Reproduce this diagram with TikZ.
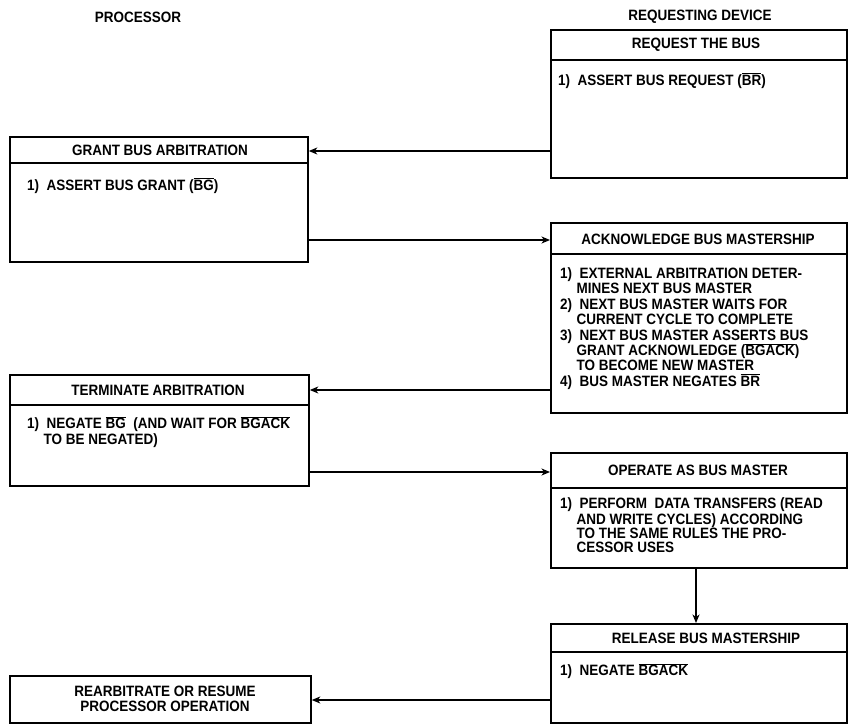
\documentclass[tikz,border=0pt]{standalone}
\usepackage{fontspec}
\setmainfont{Liberation Sans}[FakeStretch=0.9]
\usetikzlibrary{arrows.meta}
\newcommand{\ob}[1]{\smash{$\overline{\mbox{#1}}$}}
\newcommand{\fs}{\fontsize{15}{15}\selectfont\bfseries}
\begin{document}
\begin{tikzpicture}[x=1pt,y=-1pt,
  box/.style={draw, line width=1.8pt, anchor=north west, inner sep=0pt},
  divider/.style={line width=1.6pt},
  hdr/.style={font=\fs, anchor=center, inner sep=0pt},
  body/.style={font=\fs, align=left, anchor=north west, inner sep=0pt},
  ttl/.style={font=\fs, anchor=center, inner sep=0pt},
  arr/.style={line width=1.2pt, -{Stealth[length=8.5pt,width=7pt,inset=2.5pt]}}]
\useasboundingbox (0,0) rectangle (849,726);

% titles
\node[ttl] (tproc) at (138,17) {PROCESSOR};
\node[ttl] (treq) at (700,17) {REQUESTING DEVICE};

% request the bus
\node[box, minimum width=296pt, minimum height=148pt] (rq) at (550,29) {};
\coordinate (rqd) at (550,60);
\draw[divider] (rq.west |- rqd) -- (rq.east |- rqd);
\node[hdr] (rqh) at (696,45) {REQUEST THE BUS};
\node[body] (rqb) at (558,74) {\strut 1)\ \ ASSERT BUS REQUEST (\ob{BR})};

% grant bus arbitration
\node[box, minimum width=298pt, minimum height=125pt] (gr) at (9,136) {};
\coordinate (grd) at (9,163);
\draw[divider] (gr.west |- grd) -- (gr.east |- grd);
\node[hdr] (grh) at (160,150) {GRANT BUS ARBITRATION};
\node[body] (grb) at (27,179) {\strut 1)\ \ ASSERT BUS GRANT (\ob{BG})};

% acknowledge bus mastership
\node[box, minimum width=296pt, minimum height=190pt] (ack) at (550,222) {};
\coordinate (ackd) at (550,254);
\draw[divider] (ack.west |- ackd) -- (ack.east |- ackd);
\node[hdr] (ackh) at (698,239) {ACKNOWLEDGE BUS MASTERSHIP};
\node[body, font=\fontsize{15}{15.4}\selectfont\bfseries] (ackb) at (560,267.5) {\strut 1)\ \ EXTERNAL ARBITRATION DETER-\\
\hspace*{1.1em}MINES NEXT BUS MASTER\\
2)\ \ NEXT BUS MASTER WAITS FOR\\
\hspace*{1.1em}CURRENT CYCLE TO COMPLETE\\
3)\ \ NEXT BUS MASTER ASSERTS BUS\\
\hspace*{1.1em}GRANT ACKNOWLEDGE (\ob{BGACK})\\
\hspace*{1.1em}TO BECOME NEW MASTER\\
4)\ \ BUS MASTER NEGATES \ob{BR}};

% terminate arbitration
\node[box, minimum width=299pt, minimum height=111pt] (term) at (9,374) {};
\coordinate (termd) at (9,405);
\draw[divider] (term.west |- termd) -- (term.east |- termd);
\node[hdr] (termh) at (158,390) {TERMINATE ARBITRATION};
\node[body] (termb) at (27,417.5) {\strut 1)\ \ NEGATE \ob{BG}\ \ (AND WAIT FOR \ob{BGACK}\\
\hspace*{1.1em}TO BE NEGATED)};

% operate as bus master
\node[box, minimum width=296pt, minimum height=115pt] (op) at (550,452) {};
\coordinate (opd) at (550,488);
\draw[divider] (op.west |- opd) -- (op.east |- opd);
\node[hdr] (oph) at (698,470) {OPERATE AS BUS MASTER};
\node[body, font=\fontsize{15}{14.2}\selectfont\bfseries] (opb) at (560,497) {\strut 1)\ \ PERFORM\ \ DATA TRANSFERS (READ\\
\hspace*{1.1em}AND WRITE CYCLES) ACCORDING\\
\hspace*{1.1em}TO THE SAME RULES THE PRO-\\
\hspace*{1.1em}CESSOR USES};

% release bus mastership
\node[box, minimum width=296pt, minimum height=99pt] (rel) at (550,623) {};
\coordinate (reld) at (550,652);
\draw[divider] (rel.west |- reld) -- (rel.east |- reld);
\node[hdr] (relh) at (706,638) {RELEASE BUS MASTERSHIP};
\node[body] (relb) at (560,664.5) {\strut 1)\ \ NEGATE \ob{BGACK}};

% rearbitrate
\node[box, minimum width=301pt, minimum height=47pt] (rea) at (9,675) {};
\node[hdr, align=center] (reat) at (165,698.5) {REARBITRATE OR RESUME\\PROCESSOR OPERATION};

% connectors
\coordinate (a1) at (0,151);
\coordinate (a2) at (0,240);
\coordinate (a3) at (0,390);
\coordinate (a4) at (0,472);
\coordinate (a5) at (696,0);
\coordinate (a6) at (0,700);
\draw[arr] (rq.west |- a1) -- (gr.east |- a1);
\draw[arr] (gr.east |- a2) -- (ack.west |- a2);
\draw[arr] (ack.west |- a3) -- (term.east |- a3);
\draw[arr] (term.east |- a4) -- (op.west |- a4);
\draw[arr] (op.south -| a5) -- (rel.north -| a5);
\draw[arr] (rel.west |- a6) -- (rea.east |- a6);
\end{tikzpicture}
\end{document}
